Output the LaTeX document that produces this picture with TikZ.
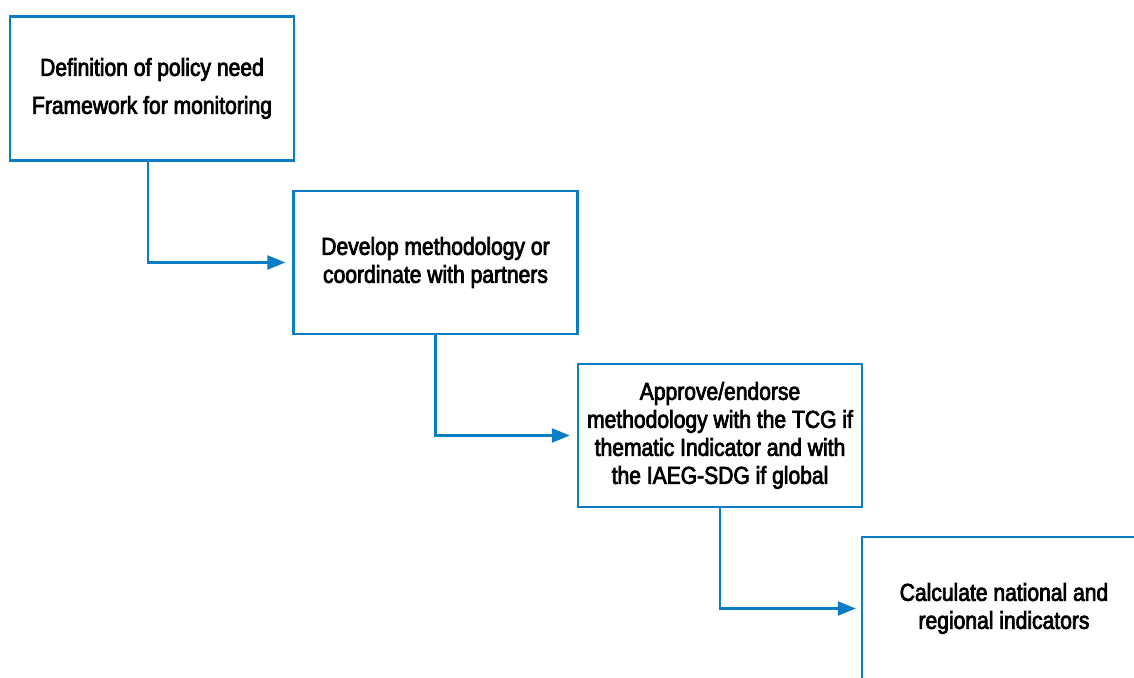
\documentclass[tikz,border=0pt]{standalone}
\usepackage{fontspec}
\setmainfont{Liberation Sans}[FakeStretch=0.86,FakeBold=3]
\usepackage{tikz}
\usetikzlibrary{%
  positioning
 ,arrows.meta
}
\definecolor{unblue}{HTML}{0B7DC4}
\tikzstyle{flow}=[x=1pt,y=1pt,font=\fontsize{24.5}{28}\selectfont]
\tikzstyle{box}=[rectangle,draw=unblue,line width=2.4pt,fill=none,inner sep=0pt,align=center,minimum width=284pt,minimum height=144pt]
\tikzstyle{lnk}=[draw=unblue,line width=2.4pt,-{Triangle[length=18pt,width=14pt]},shorten >=7pt]

\begin{document}
\begin{tikzpicture}[flow]
      \useasboundingbox (0,0) rectangle (1134,-677);
      \node[box] (st_1) at (152,-88.5) {Definition of policy need\\[10pt]Framework for monitoring};
      \node[box,minimum height=143pt] (st_2) at (435.5,-262.5) {Develop methodology or\\coordinate with partners};
      \node[box,minimum height=143pt] (st_3) at (720,-435.5) {Approve/endorse\\methodology with the TCG if\\thematic Indicator and with\\the IAEG-SDG if global};
      \node[box,minimum height=143pt] (st_4) at (1004,-608.5) {Calculate national and\\regional indicators};
      \draw[lnk] ([xshift=-4pt]st_1.south) |- (st_2);
      \draw[lnk] (st_2.south) |- (st_3);
      \draw[lnk,shorten >=5pt] (st_3.south) |- (st_4);
    \end{tikzpicture}
\end{document}
